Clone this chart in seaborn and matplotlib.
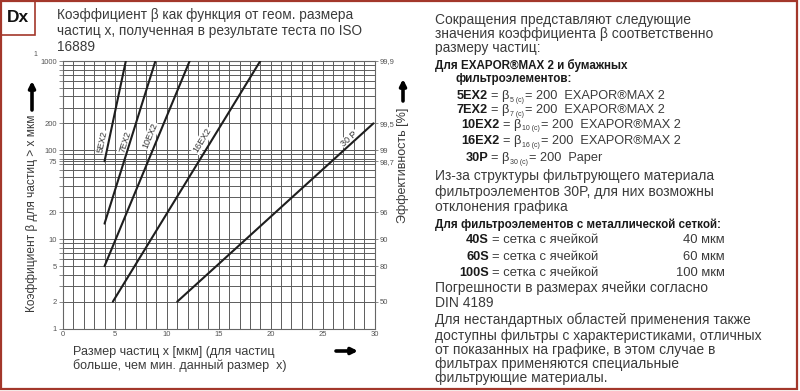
import numpy as np
import pandas as pd
import matplotlib
matplotlib.use('Agg')
import matplotlib.pyplot as plt
from matplotlib.patches import Rectangle, FancyArrowPatch
import seaborn as sns

# Data: each filter is a straight line in x vs log(beta)
filters = ['5EX2', '7EX2', '10EX2', '16EX2', '30P']
size_start = [4.0, 4.0, 4.0, 4.8, 11.0]
size_end = [6.05, 8.9, 12.2, 19.0, 29.9]
beta_start = [75, 15, 5, 2, 2]
beta_end = [1000, 1000, 1000, 1000, 200]

# axis ticks
beta_ticks = [1, 2, 5, 10, 20, 75, 100, 200, 1000]
eff_ticks = [2, 5, 10, 20, 75, 100, 200, 1000]
eff_labels = ['50', '80', '90', '96', '98,7', '99', '99,5', '99,9']
x_ticks = [0, 5, 10, 15, 20, 25, 30]

rows = []
for f, x0, x1, b0, b1 in zip(filters, size_start, size_end, beta_start, beta_end):
    rows.append({'filter': f, 'size': x0, 'beta': b0})
    rows.append({'filter': f, 'size': x1, 'beta': b1})
df = pd.DataFrame(rows)

sns.set_style('white')
plt.rcParams['font.family'] = ['Liberation Sans', 'DejaVu Sans']

W, H = 800, 391
fig = plt.figure(figsize=(8, 3.91), dpi=100)
renderer = fig.canvas.get_renderer()


def fx(px):
    return px / W


def fy(py):
    return 1 - py / H


ax = fig.add_axes([fx(63), fy(328.5), fx(374.5) - fx(63), fy(61) - fy(328.5)])

sns.lineplot(data=df, x='size', y='beta', units='filter', estimator=None,
             color='#1e1e1e', lw=1.5, ax=ax, legend=False, zorder=4)
ax.set_yscale('log')
ax.set_xlim(0, 30)
ax.set_ylim(1, 1000)

# grid: every micron, and log minors plus the 75 line
minor_beta = [v for d in (1, 10, 100) for v in range(2 * d, 10 * d, d)
              if v not in beta_ticks]
ax.set_yticks(beta_ticks)
ax.set_yticklabels([str(v) for v in beta_ticks])
ax.set_yticks(minor_beta, minor=True)
ax.yaxis.set_minor_formatter(plt.NullFormatter())
ax.set_xticks(x_ticks)
ax.set_xticks(range(0, 31), minor=True)
ax.grid(True, which='both', color='#5c5c5c', lw=0.7, zorder=1)
ax.tick_params(axis='y', which='both', direction='out', length=3, width=0.6,
               color='#777', labelsize=5.5, labelcolor='#555', pad=1.5)
ax.tick_params(axis='x', which='both', length=0, labelsize=5.5,
               labelcolor='#555', pad=2)
for s in ax.spines.values():
    s.set_color('#666')
    s.set_linewidth(0.8)
ax.set_xlabel('')
ax.set_ylabel('')

ax2 = ax.twinx()
ax2.set_yscale('log')
ax2.set_ylim(1, 1000)
ax2.set_yticks(eff_ticks)
ax2.set_yticklabels(eff_labels)
ax2.yaxis.set_minor_locator(plt.NullLocator())
ax2.tick_params(axis='y', direction='out', length=2, width=0.6, color='#777',
                labelsize=5.5, labelcolor='#555', pad=1.5)
for s in ax2.spines.values():
    s.set_visible(False)

# line labels, rotated along each line
label_pos = {'5EX2': (3.83, 123), '7EX2': (5.98, 123), '10EX2': (8.39, 144),
             '16EX2': (13.4, 129), '30P': (27.6, 133)}
label_text = {'5EX2': '5EX2', '7EX2': '7EX2', '10EX2': '10EX2',
              '16EX2': '16EX2', '30P': '30 P'}
for f, x0, x1, b0, b1 in zip(filters, size_start, size_end, beta_start, beta_end):
    p0 = ax.transData.transform((x0, b0))
    p1 = ax.transData.transform((x1, b1))
    ang = np.degrees(np.arctan2(p1[1] - p0[1], p1[0] - p0[0]))
    lx, ly = label_pos[f]
    ax.text(lx, ly, label_text[f], rotation=ang, rotation_mode='anchor',
            ha='center', va='center', fontsize=6.5, color='#333', zorder=3,
            bbox=dict(boxstyle='square,pad=0.1', fc='white', ec='none'))

# frame and Dx box
fig.patches.append(Rectangle((fx(1), fy(388.5)), fx(796.5) - fx(1), fy(1) - fy(388.5),
                             transform=fig.transFigure, fill=False,
                             ec='#a3372b', lw=1.6))
fig.patches.append(Rectangle((fx(1), fy(34.5)), fx(34.5) - fx(1), fy(1) - fy(34.5),
                             transform=fig.transFigure, fill=False,
                             ec='#a3372b', lw=1.2))
fig.text(fx(17.5), fy(18), 'Dx', fontsize=12.5, fontweight='bold',
         ha='center', va='center', color='#111')

txt = '#3a3a3a'
title_lines = ['Коэффициент β как функция от геом. размера',
               'частиц x, полученная в результате теста по ISO',
               '16889']
for i, t in enumerate(title_lines):
    fig.text(fx(57), fy(15 + 16 * i), t, fontsize=9.8, color=txt,
             ha='left', va='center')
fig.text(fx(35), fy(55), '1', fontsize=5, color='#555', ha='center', va='center')

# axis labels with arrows
fig.text(fx(32), fy(213), 'Коэффициент β для частиц > x мкм', rotation=90,
         fontsize=8.6, color=txt, ha='center', va='center')
fig.text(fx(403), fy(165), 'Эффективность [%]', rotation=90,
         fontsize=9, color=txt, ha='center', va='center')
fig.text(fx(73), fy(352), 'Размер частиц x [мкм] (для частиц', fontsize=9,
         color=txt, ha='left', va='center')
fig.text(fx(73), fy(366), 'больше, чем мин. данный размер  x)', fontsize=9,
         color=txt, ha='left', va='center')
arrow = dict(arrowstyle='-|>', lw=2.6, color='black', mutation_scale=9,
             shrinkA=0, shrinkB=0)
fig.add_artist(FancyArrowPatch((fx(32), fy(110)), (fx(32), fy(81)),
                               transform=fig.transFigure, **arrow))
fig.add_artist(FancyArrowPatch((fx(403), fy(101)), (fx(403), fy(79)),
                               transform=fig.transFigure, **arrow))
fig.add_artist(FancyArrowPatch((fx(336), fy(351)), (fx(358), fy(351)),
                               transform=fig.transFigure, **arrow))

# right-hand text column
reg = dict(fontsize=10, color=txt, ha='left', va='center')
bold = dict(fontsize=8.4, color='#1a1a1a', fontweight='bold', ha='left', va='center')
lab = dict(fontsize=9.2, color='#1a1a1a', fontweight='bold', ha='right', va='center')

for y, t in [(20, 'Сокращения представляют следующие'),
             (34, 'значения коэффициента β соответственно'),
             (48, 'размеру частиц:')]:
    fig.text(fx(435), fy(y), t, **reg)
fig.text(fx(435), fy(65), 'Для EXAPOR®MAX 2 и бумажных', **bold)
fig.text(fx(456), fy(79), 'фильтроэлементов:', **bold)


def chain(x, y, parts):
    # parts: (text, fontsize, dy) drawn left to right
    for t, size, dy in parts:
        obj = fig.text(fx(x), fy(y + dy), t, fontsize=size, color=txt,
                       ha='left', va='center')
        x = obj.get_window_extent(renderer).x1 + 1


formula_rows = [(96, '5EX2', '5', 488, 'EXAPOR®MAX 2'),
                (110, '7EX2', '7', 488, 'EXAPOR®MAX 2'),
                (125, '10EX2', '10', 500, 'EXAPOR®MAX 2'),
                (141, '16EX2', '16', 500, 'EXAPOR®MAX 2'),
                (158, '30P', '30', 488, 'Paper')]
for y, name, sub, xr, tail in formula_rows:
    fig.text(fx(xr), fy(y), name, **lab)
    chain(xr + 3, y, [('= β', 9.2, 0), (sub + ' (c)', 5, 4),
                      ('= 200  ' + tail, 9.2, 0)])

for y, t in [(176, 'Из-за структуры фильтрующего материала'),
             (192, 'фильтроэлементов 30P, для них возможны'),
             (207, 'отклонения графика')]:
    fig.text(fx(435), fy(y), t, **reg)
fig.text(fx(435), fy(225), 'Для фильтроэлементов с металлической сеткой:', **bold)

mesh_rows = [(240, '40S', '40 мкм'), (257, '60S', '60 мкм'), (273, '100S', '100 мкм')]
for y, name, size in mesh_rows:
    fig.text(fx(489), fy(y), name, **lab)
    fig.text(fx(492), fy(y), '= сетка с ячейкой', fontsize=9.4, color=txt,
             ha='left', va='center')
    fig.text(fx(725), fy(y), size, fontsize=9.4, color=txt, ha='right', va='center')

for y, t in [(288, 'Погрешности в размерах ячейки согласно'),
             (303, 'DIN 4189'),
             (320, 'Для нестандартных областей применения также'),
             (336, 'доступны фильтры с характеристиками, отличных'),
             (350, 'от показанных на графике, в этом случае в'),
             (364, 'фильтрах применяются специальные'),
             (378, 'фильтрующие материалы.')]:
    fig.text(fx(435), fy(y), t, **reg)

fig.savefig('out.png', dpi=100, facecolor='white')
